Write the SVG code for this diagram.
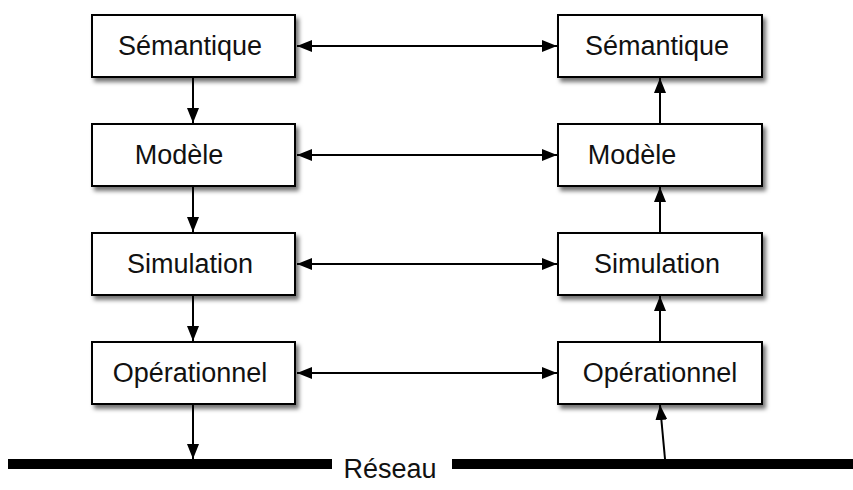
<svg xmlns="http://www.w3.org/2000/svg" width="853" height="490" viewBox="0 0 853 490">
  <style>
    .box { fill: #ffffff; stroke: #000000; stroke-width: 2; filter: url(#shadow); }
    .label { font-family: "Liberation Sans", Arial, Helvetica, sans-serif; font-size: 27px; fill: #111111; text-anchor: middle; }
    .link { stroke: #000000; stroke-width: 2; fill: none; }
    .bus { fill: #000000; }
  </style>
  <defs>
    <filter id="shadow" x="-10%" y="-20%" width="130%" height="150%">
      <feDropShadow dx="3" dy="4" stdDeviation="2" flood-color="#000000" flood-opacity="0.55"/>
    </filter>
    <marker id="head-end" viewBox="0 0 15 12" refX="15" refY="6" markerWidth="15" markerHeight="12" markerUnits="userSpaceOnUse" orient="auto">
      <path d="M0,0 L15,6 L0,12 Z" fill="#000000"/>
    </marker>
    <marker id="head-start" viewBox="0 0 15 12" refX="0" refY="6" markerWidth="15" markerHeight="12" markerUnits="userSpaceOnUse" orient="auto">
      <path d="M15,0 L0,6 L15,12 Z" fill="#000000"/>
    </marker>
  </defs>

  <!-- network bus -->
  <g id="reseau">
    <rect class="bus" x="8" y="459" width="324" height="10"/>
    <rect class="bus" x="452" y="459" width="401" height="10"/>
    <text class="label" x="390" y="478" font-size="26">Réseau</text>
  </g>

  <!-- connectors -->
  <g id="connectors">
    <!-- left stack, downward -->
    <line class="link" x1="193" y1="77" x2="193" y2="123" marker-end="url(#head-end)"/>
    <line class="link" x1="193" y1="186" x2="193" y2="232" marker-end="url(#head-end)"/>
    <line class="link" x1="193" y1="295" x2="193" y2="341" marker-end="url(#head-end)"/>
    <line class="link" x1="193" y1="404" x2="193" y2="459" marker-end="url(#head-end)"/>
    <!-- right stack, upward -->
    <line class="link" x1="665" y1="459" x2="660" y2="405" marker-end="url(#head-end)"/>
    <line class="link" x1="660" y1="342" x2="660" y2="296" marker-end="url(#head-end)"/>
    <line class="link" x1="660" y1="233" x2="660" y2="187" marker-end="url(#head-end)"/>
    <line class="link" x1="660" y1="124" x2="660" y2="78" marker-end="url(#head-end)"/>
    <!-- peer exchanges between layers -->
    <line class="link" x1="297" y1="46" x2="557" y2="46" marker-start="url(#head-start)" marker-end="url(#head-end)"/>
    <line class="link" x1="297" y1="155" x2="557" y2="155" marker-start="url(#head-start)" marker-end="url(#head-end)"/>
    <line class="link" x1="297" y1="264" x2="557" y2="264" marker-start="url(#head-start)" marker-end="url(#head-end)"/>
    <line class="link" x1="297" y1="373" x2="557" y2="373" marker-start="url(#head-start)" marker-end="url(#head-end)"/>
  </g>

  <!-- left stack -->
  <g id="semantique-a">
    <rect class="box" x="92" y="15" width="203" height="62"/>
    <text class="label" x="190" y="55">Sémantique</text>
  </g>
  <g id="modele-a">
    <rect class="box" x="92" y="124" width="203" height="62"/>
    <text class="label" x="179" y="164">Modèle</text>
  </g>
  <g id="simulation-a">
    <rect class="box" x="92" y="233" width="203" height="62"/>
    <text class="label" x="190" y="273">Simulation</text>
  </g>
  <g id="operationnel-a">
    <rect class="box" x="92" y="342" width="203" height="62"/>
    <text class="label" x="190" y="382">Opérationnel</text>
  </g>

  <!-- right stack -->
  <g id="semantique-b">
    <rect class="box" x="558" y="15" width="204" height="62"/>
    <text class="label" x="657" y="55">Sémantique</text>
  </g>
  <g id="modele-b">
    <rect class="box" x="558" y="124" width="204" height="62"/>
    <text class="label" x="632" y="164">Modèle</text>
  </g>
  <g id="simulation-b">
    <rect class="box" x="558" y="233" width="204" height="62"/>
    <text class="label" x="657" y="273">Simulation</text>
  </g>
  <g id="operationnel-b">
    <rect class="box" x="558" y="342" width="204" height="62"/>
    <text class="label" x="660" y="382">Opérationnel</text>
  </g>
</svg>
